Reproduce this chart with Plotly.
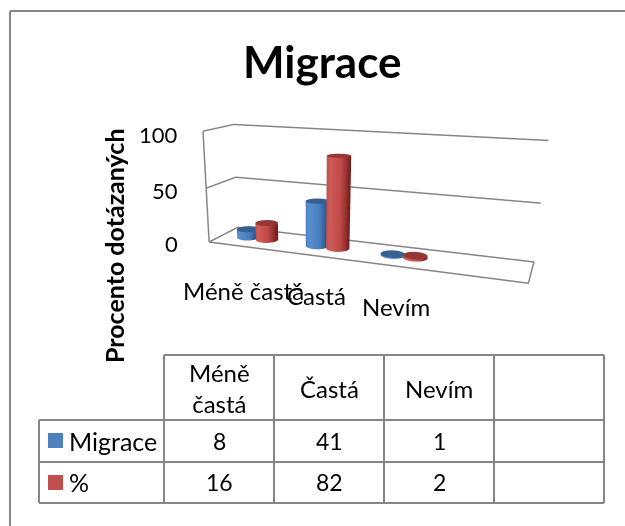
import numpy as np
import plotly.graph_objects as go

categories = ["Méně častá", "Častá", "Nevím", ""]
table_heads = ["Méně<br>častá", "Častá", "Nevím", ""]
migrace = [8, 41, 1, None]
procenta = [16, 82, 2, None]
y_ticks = [0, 50, 100]

W, H = 625, 526
GRID = "#868686"
FONT = "Lato"
TEXT = "#000000"

BLUE_SCALE = [[0, "#4a7ab4"], [.3, "#5a8fd0"], [.75, "#4a80c0"], [.92, "#34649c"], [1, "#24507f"]]
RED_SCALE = [[0, "#b84c49"], [.3, "#d05c58"], [.75, "#c04a48"], [.92, "#9a3331"], [1, "#7a2120"]]
BLUE_TOP = "#376092"
RED_TOP = "#953735"

# scene units, from the camera solve
ASPECT_Y = 0.1935
ASPECT_Z = 0.3586
R = 0.037
OFFSET = 0.14
CAT_CENTER = 0.515


def px(x):
    return x / W


def py(y):
    return 1 - y / H


def label(text, x, y, size, bold=False, angle=0, anchor="center"):
    t = f"<b>{text}</b>" if bold else text
    return dict(text=t, x=px(x), y=py(y), xref="paper", yref="paper", showarrow=False,
                xanchor=anchor, yanchor="middle", textangle=angle,
                font=dict(family=FONT, size=size, color=TEXT))


def line(x0, y0, x1, y1, width=2):
    return dict(type="line", xref="paper", yref="paper", x0=px(x0), y0=py(y0), x1=px(x1), y1=py(y1),
                line=dict(color=GRID, width=width))


def swatch(x0, y0, x1, y1, color):
    return dict(type="rect", xref="paper", yref="paper", x0=px(x0), y0=py(y0), x1=px(x1), y1=py(y1),
                line=dict(width=0), fillcolor=color)


def cylinder(cx, value, scale, top):
    th = np.linspace(0, 2 * np.pi, 61)
    ry = R / ASPECT_Y
    rx = R * 4
    xs = cx + rx * np.cos(th)
    ys = 0.5 + ry * np.sin(th)
    side = go.Surface(x=np.array([xs, xs]), y=np.array([ys, ys]), z=np.array([th * 0, th * 0 + value]),
                      surfacecolor=np.array([(np.cos(th) + 1) / 2] * 2), colorscale=scale, cmin=0, cmax=1,
                      showscale=False, hoverinfo="skip",
                      lighting=dict(ambient=1, diffuse=0, specular=0, fresnel=0))
    cap = go.Surface(x=np.array([cx + 0 * th, xs]), y=np.array([0.5 + 0 * th, ys]), z=np.array([th * 0 + value] * 2),
                     colorscale=[[0, top], [1, top]], showscale=False, hoverinfo="skip",
                     lighting=dict(ambient=1, diffuse=0, specular=0, fresnel=0))
    return [side, cap]


fig = go.Figure()

# walls and floor
wall_x = [0, 4, 4, 0, 0]
wall_y = [0, 0, 1, 1, 0]
fig.add_trace(go.Scatter3d(x=wall_x, y=wall_y, z=[0] * 5, mode="lines", line=dict(color=GRID, width=3), hoverinfo="skip"))
for t in y_ticks[1:]:
    fig.add_trace(go.Scatter3d(x=[0, 0, 4], y=[0, 1, 1], z=[t] * 3, mode="lines", line=dict(color=GRID, width=3), hoverinfo="skip"))
fig.add_trace(go.Scatter3d(x=[0, 0], y=[0, 0], z=[0, y_ticks[-1]], mode="lines", line=dict(color=GRID, width=3), hoverinfo="skip"))

for i, cat in enumerate(categories):
    if migrace[i] is None:
        continue
    for tr in cylinder(i + CAT_CENTER - OFFSET, migrace[i], BLUE_SCALE, BLUE_TOP):
        fig.add_trace(tr)
    for tr in cylinder(i + CAT_CENTER + OFFSET, procenta[i], RED_SCALE, RED_TOP):
        fig.add_trace(tr)

# tick labels etc sit on the paper
notes = [label("Migrace", 322, 61, 44, bold=True),
         label("Procento dotázaných", 114, 246, 25, bold=True, angle=-90)]
for t, y in zip(y_ticks, [243, 190, 134]):
    notes.append(label(str(t), 180, y, 22, anchor="right"))
for cat, x, y in zip(categories[:3], [243, 316, 396], [290, 295, 306]):
    notes.append(label(cat, x, y, 24))

col_x = [164, 274, 384, 494, 604]
row_y = [355, 420, 462, 503]
shapes = [line(10, 11, 625, 11), line(10, 11, 10, 526)]
shapes += [line(x, row_y[0], x, row_y[-1]) for x in col_x]
shapes += [line(39, row_y[1], 39, row_y[-1])]
shapes += [line(col_x[0], row_y[0], col_x[-1], row_y[0])]
shapes += [line(39, y, col_x[-1], y) for y in row_y[1:]]
shapes += [swatch(48, 433, 63, 448, "#4f81bd"), swatch(48, 475, 63, 490, "#c0504d")]

for j, head in enumerate(table_heads):
    if head:
        notes.append(label(head, (col_x[j] + col_x[j + 1]) / 2, 388, 24))
for name, vals, y in [("Migrace", migrace, 441), ("%", procenta, 482)]:
    notes.append(label(name, 67, y, 25, anchor="left"))
    for j, v in enumerate(vals):
        if v is not None:
            notes.append(label(str(v), (col_x[j] + col_x[j + 1]) / 2, y, 23))

hidden = dict(visible=False)
fig.update_layout(
    width=W, height=H, margin=dict(l=0, r=0, t=0, b=0), showlegend=False,
    paper_bgcolor="white",
    scene=dict(domain=dict(x=[0, 1], y=[0, 1]), aspectmode="manual",
               aspectratio=dict(x=1, y=ASPECT_Y, z=ASPECT_Z),
               xaxis=dict(hidden, range=[0, 4]), yaxis=dict(hidden, range=[0, 1]),
               zaxis=dict(hidden, range=[0, 100]),
               camera=dict(eye=dict(x=0.5741, y=-1.8088, z=0.4297),
                           center=dict(x=-0.1315, y=-0.1007, z=-0.2026),
                           up=dict(x=0, y=0, z=1))),
    annotations=notes, shapes=shapes,
)
fig.write_html("out.html", post_script="document.body.style.margin='0'",
               config=dict(displayModeBar=False))
